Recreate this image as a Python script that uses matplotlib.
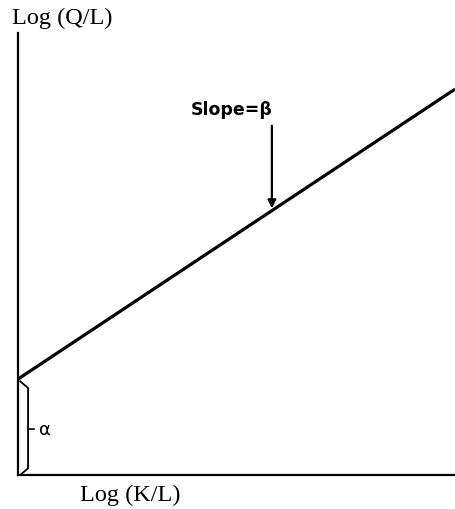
import numpy as np
import matplotlib
matplotlib.use('Agg')
import matplotlib.pyplot as plt

# Cobb-Douglas en forma logarítmica: log(Q/L) = alpha + beta * log(K/L)
alpha = 2.17
beta = 0.656
x_lim = [0.0, 10.0]
y_lim = [0.0, 10.0]
x_flecha = 5.81
y_flecha_ini = 7.9

etiqueta_x = "Log (K/L)"
etiqueta_y = "Log (Q/L)"
etiqueta_pend = "Slope=β"
etiqueta_alpha = "α"

fig = plt.figure(figsize=(4.55, 5.10), dpi=100)
ax = fig.add_axes([18 / 455, 34 / 510, 437 / 455, 442 / 510])

x = np.array(x_lim)
ax.plot(x, alpha + beta * x, color="black", lw=2.3, solid_capstyle="butt",
        zorder=3)

# flecha de la pendiente
y_tip = alpha + beta * x_flecha
ax.annotate("", xy=(x_flecha, y_tip + 0.05), xytext=(x_flecha, y_flecha_ini),
            arrowprops=dict(arrowstyle="-|>", color="black", lw=1.6,
                            mutation_scale=12, shrinkA=0, shrinkB=0))
ax.text(x_flecha + 0.02, 8.27, etiqueta_pend, ha="right", va="center",
        fontsize=12.5, fontfamily="DejaVu Sans", fontweight="semibold")

# llave de alpha
bx = 0.23
ax.plot([0.05, bx, bx, 0.05], [alpha - 0.05, alpha - 0.2, 0.15, 0.0],
        color="black", lw=1.3, solid_joinstyle="round")
ax.plot([bx, bx + 0.13], [alpha / 2 - 0.05] * 2, color="black", lw=1.2)
ax.text(bx + 0.25, alpha / 2 - 0.05, etiqueta_alpha, ha="left", va="center",
        fontsize=13, fontfamily="DejaVu Sans")

ax.set_xlim(x_lim)
ax.set_ylim(y_lim)
ax.set_xticks([])
ax.set_yticks([])
for lado in ["top", "right"]:
    ax.spines[lado].set_visible(False)
for lado in ["left", "bottom"]:
    ax.spines[lado].set_linewidth(1.6)

fig.text(12 / 455, 1 - 18 / 510, etiqueta_y, ha="left", va="center",
         fontsize=17.5, fontfamily="Liberation Serif")
fig.text(80 / 455, 1 - 495 / 510, etiqueta_x, ha="left", va="center",
         fontsize=17.5, fontfamily="Liberation Serif")

fig.savefig("out.png", dpi=100)
